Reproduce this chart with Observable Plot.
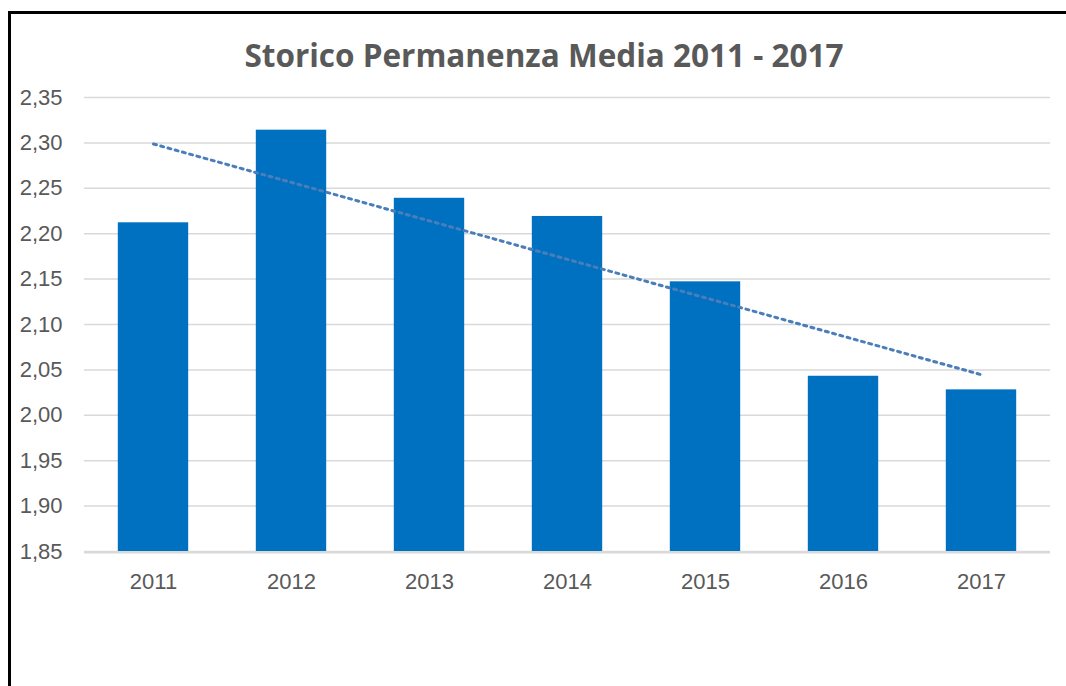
<!DOCTYPE html>
<html>
<head>
<meta charset="utf-8">
<script src="https://cdn.jsdelivr.net/npm/d3@7"></script>
<script src="https://cdn.jsdelivr.net/npm/@observablehq/plot@0.6"></script>
<style>
  body { margin: 0; background: #fff; }
  #wrap { position: relative; width: 1066px; height: 686px; overflow: hidden; background: #fff; font-family: "Liberation Sans", Arial, sans-serif; }
  #frame { position: absolute; left: 8px; top: 11px; right: -10px; bottom: -10px; border-left: 3px solid #000; border-top: 3px solid #000; }
  #title { position: absolute; left: 22px; width: 1044px; top: 39px; text-align: center; font-family: "Open Sans", "Liberation Sans", sans-serif; font-size: 31.5px; line-height: 32px; font-weight: bold; color: #595959; }
  #chart { position: absolute; left: 0; top: 80px; }
</style>
</head>
<body>
<div id="wrap">
  <div id="frame"></div>
  <div id="title">Storico Permanenza Media 2011 - 2017</div>
  <div id="chart"></div>
</div>
<script>
const years = ["2011", "2012", "2013", "2014", "2015", "2016", "2017"];
const values = [2.212, 2.314, 2.239, 2.219, 2.147, 2.043, 2.028];
const yTicks = [1.85, 1.90, 1.95, 2.00, 2.05, 2.10, 2.15, 2.20, 2.25, 2.30, 2.35];

const data = years.map((year, i) => ({year, value: values[i], i}));

// linear trendline (least squares), as in the spreadsheet
const n = values.length;
const mx = d3.mean(data, d => d.i), my = d3.mean(values);
const slope = d3.sum(data, d => (d.i - mx) * (d.value - my)) / d3.sum(data, d => (d.i - mx) ** 2);
const trend = [data[0], data[n - 1]].map(d => ({year: d.year, value: my + slope * (d.i - mx)}));

const fmt = v => d3.format(".2f")(v).replace(".", ",");

const chart = Plot.plot({
  width: 1066,
  height: 606,
  marginTop: 17,
  marginBottom: 135,
  marginLeft: 84,
  marginRight: 16,
  style: {fontFamily: "'Liberation Sans', Arial, sans-serif", fontSize: "22px", color: "#595959", background: "transparent"},
  x: {domain: years, paddingInner: 0.49, paddingOuter: 0.245, round: false, label: null},
  y: {domain: [yTicks[0], yTicks[yTicks.length - 1]], label: null},
  marks: [
    Plot.ruleY(yTicks, {stroke: "#d9d9d9", strokeWidth: 1.5}),
    Plot.barY(data, {x: "year", y1: () => yTicks[0], y2: "value", fill: "#0070c0"}),
    Plot.ruleY([yTicks[0]], {stroke: "#d9d9d9", strokeWidth: 2, dy: 1}),
    Plot.line(trend, {x: "year", y: "value", stroke: "#4a7ebb", strokeWidth: 3, strokeDasharray: "3 4.5"}),
    Plot.axisY(yTicks, {tickSize: 0, tickPadding: 22, tickFormat: fmt, label: null, fill: "#595959"}),
    Plot.axisX({tickSize: 0, tickPadding: 22, label: null, fill: "#595959"})
  ]
});
document.getElementById("chart").appendChild(chart);
</script>
</body>
</html>
